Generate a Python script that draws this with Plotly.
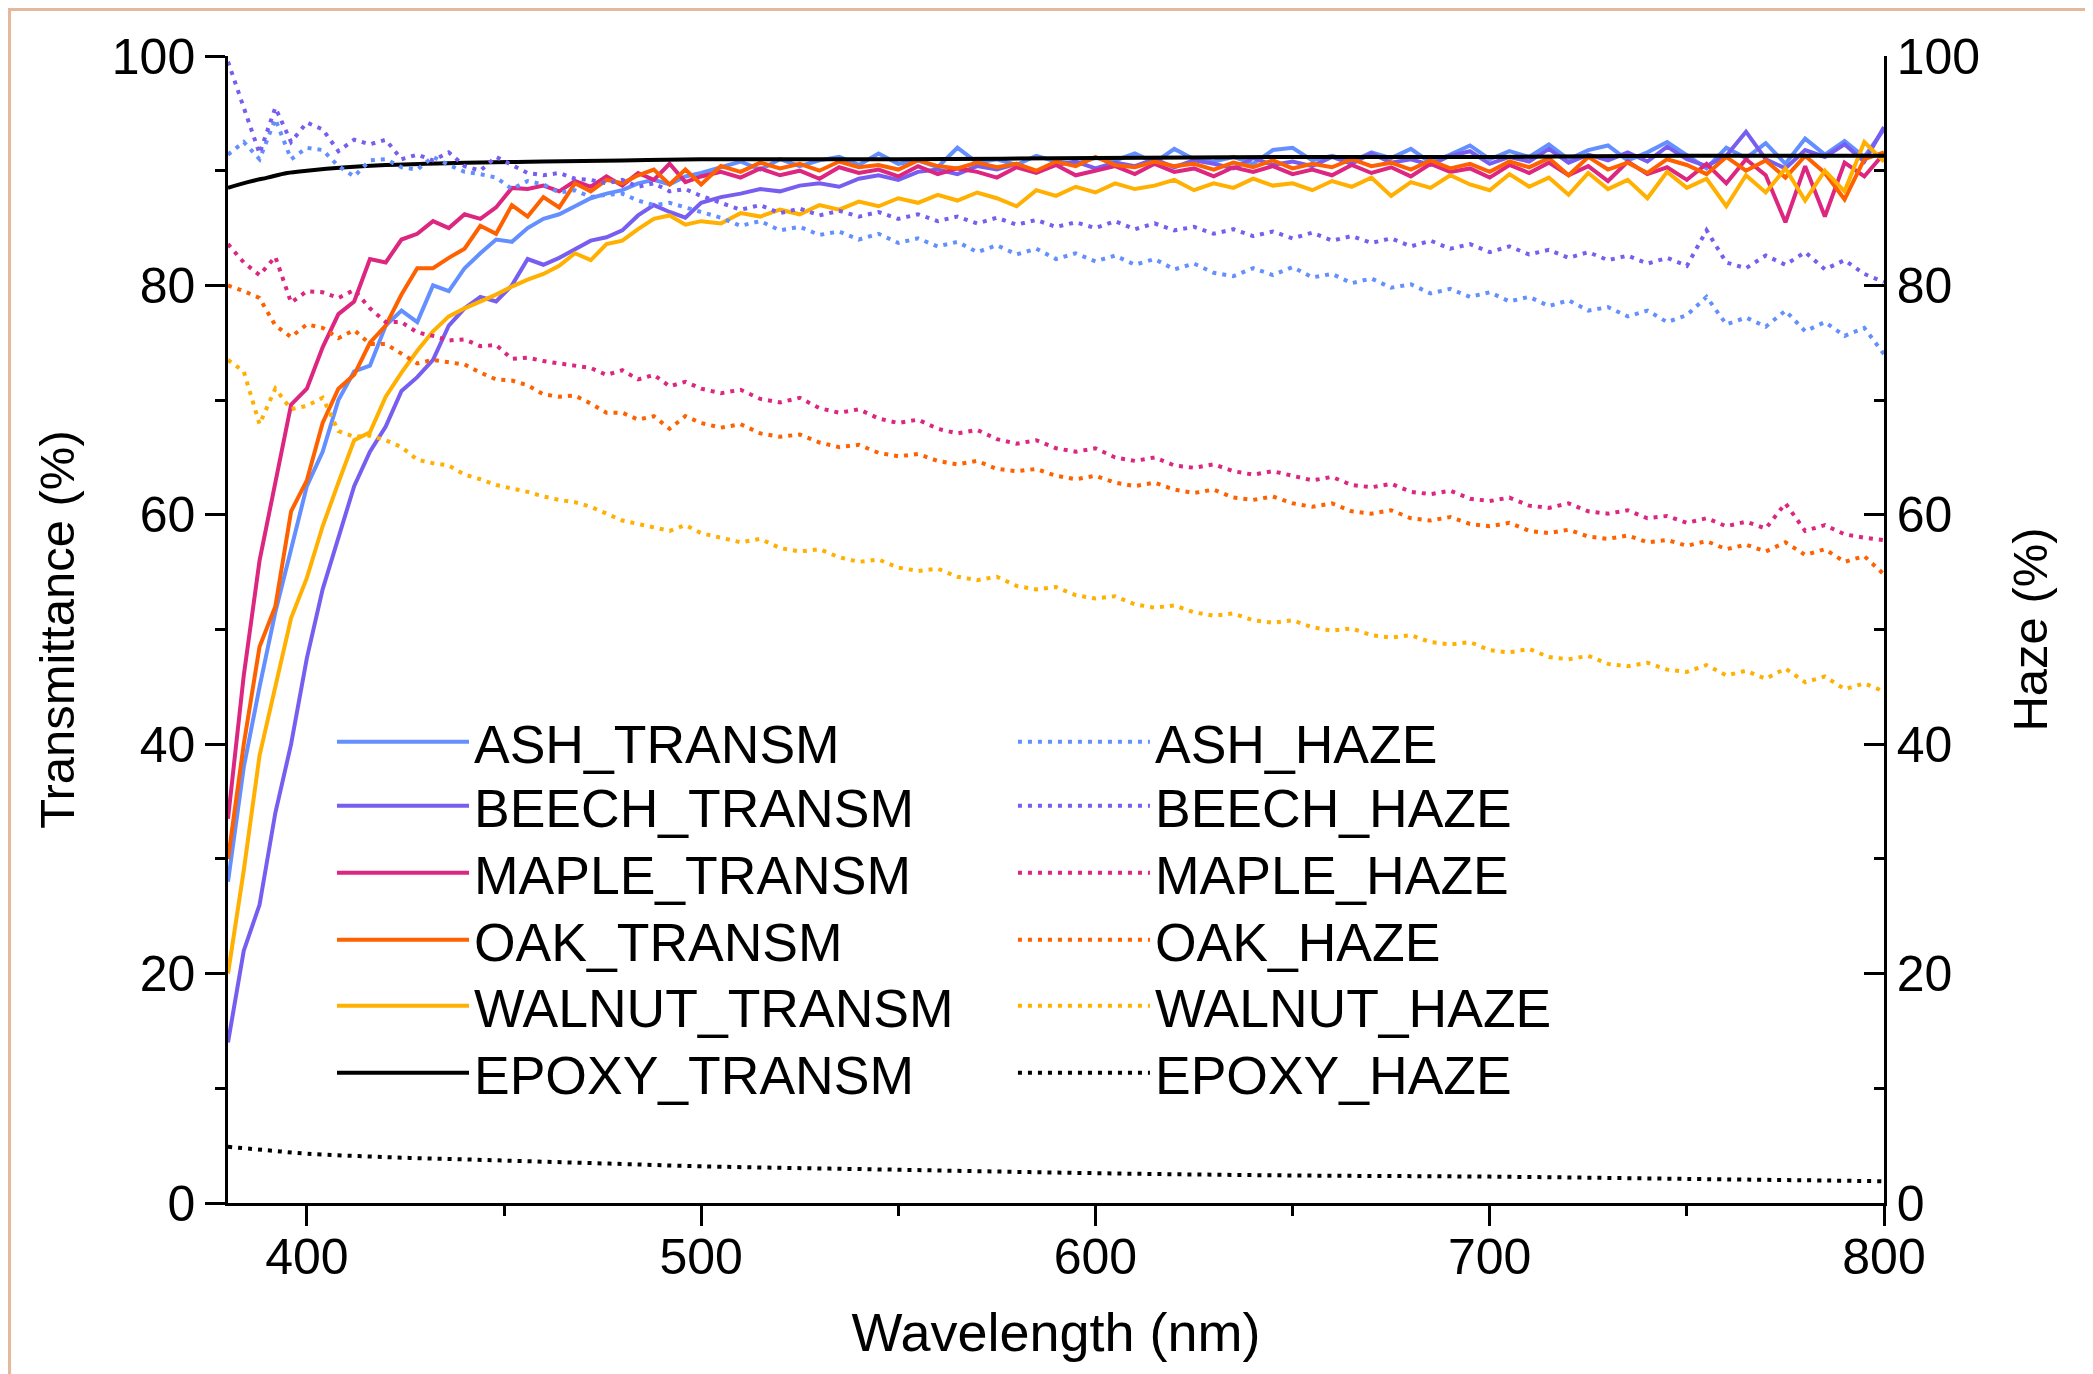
import plotly.graph_objects as go

# ---------------- data ----------------
WL = list(range(380, 501, 4)) + list(range(505, 801, 5))

ASH_TRANSM = [28, 38, 45, 51.5, 57, 62.5, 65.5, 70, 72.5, 73, 76.5, 77.8, 76.8, 80, 79.5, 81.5,
              82.8, 84, 83.8, 85, 85.8, 86.2, 86.9, 87.6, 88, 88.3, 88.9, 89.2, 88.8, 89.5, 89.8,
              90.3, 90.8, 90.1, 91.0, 90.4, 90.9, 91.2, 90.5, 91.5, 90.6, 90.9, 90.3, 92.0, 90.7, 91.0,
              90.5, 91.3, 90.8, 90.6, 91.1, 90.9, 91.5, 90.7, 91.9, 91.0, 90.8, 91.2, 90.6, 91.8, 92.0,
              90.9, 91.3, 90.8, 91.6, 91.1, 91.9, 90.7, 91.4, 92.2, 91.0, 91.7, 91.2, 92.3, 91.0, 91.8,
              92.2, 90.9, 91.6, 92.5, 91.3, 90.2, 92.0, 91.1, 92.4, 90.6, 92.8, 91.4, 92.6, 91.2, 93.6]
BEECH_TRANSM = [14, 22, 26, 34, 40, 47.5, 53.5, 58, 62.5, 65.5, 67.7, 70.8, 72, 73.5, 76.5, 78,
                79, 78.6, 80, 82.3, 81.8, 82.4, 83.2, 83.9, 84.2, 84.8, 86.1, 87, 86.4, 85.9, 87.2,
                87.7, 88.0, 88.4, 88.2, 88.7, 88.9, 88.6, 89.3, 89.6, 89.2, 89.9, 90.1, 89.7, 90.4, 90.1,
                90.6, 89.9, 90.5, 90.8, 90.2, 90.7, 90.4, 91.0, 90.3, 90.9, 90.6, 90.2, 91.1, 90.5, 90.8,
                90.4, 91.2, 90.6, 91.5, 90.7, 91.0, 90.5, 91.3, 91.7, 90.6, 91.2, 90.8, 91.9, 90.7, 91.4,
                90.9, 91.6, 90.8, 92.1, 91.0, 90.4, 91.3, 93.4, 91.0, 90.2, 91.8, 91.2, 92.3, 90.8, 93.8]
MAPLE_TRANSM = [33.5, 46, 56, 63, 69.6, 71, 74.6, 77.5, 78.6, 82.3, 82, 84, 84.5, 85.6, 85, 86.2,
                85.8, 86.8, 88.5, 88.4, 88.7, 88.2, 89.1, 88.6, 89.5, 88.7, 89.8, 89.2, 90.6, 89, 89.5,
                89.9, 89.4, 90.2, 89.6, 90.0, 89.3, 90.3, 89.8, 90.1, 89.5, 90.4, 89.7, 90.2, 89.9, 89.4,
                90.3, 89.8, 90.5, 89.6, 90.0, 90.4, 89.7, 90.6, 89.9, 90.2, 89.5, 90.3, 89.9, 90.4, 89.7,
                90.1, 89.6, 90.5, 89.8, 90.3, 89.5, 90.6, 89.9, 90.2, 89.4, 90.5, 89.8, 90.7, 89.6, 90.4,
                89.1, 90.8, 89.7, 90.3, 89.2, 90.6, 88.9, 91.0, 89.6, 85.5, 90.4, 86.0, 90.7, 89.5, 91.5]
OAK_TRANSM = [30, 40, 48.5, 52, 60.3, 63, 68, 71, 72.2, 75, 76.5, 79.2, 81.5, 81.5, 82.4, 83.2,
              85.2, 84.5, 87, 86, 87.7, 86.8, 88.9, 88.2, 89.2, 88.9, 89.6, 90.1, 88.8, 90.1, 88.8,
              90.4, 89.9, 90.7, 90.2, 90.6, 90.0, 90.8, 90.3, 90.5, 90.1, 90.9, 90.4, 90.2, 90.7, 90.3,
              90.6, 90.0, 90.8, 90.4, 91.2, 90.5, 90.3, 90.8, 90.4, 90.6, 90.1, 90.7, 90.3, 90.9, 90.2,
              90.6, 90.3, 91.0, 90.4, 90.7, 90.1, 90.9, 90.2, 90.6, 89.9, 90.8, 90.3, 91.1, 89.6, 91.2,
              90.1, 90.7, 89.8, 91.0, 90.5, 89.7, 91.2, 90.0, 90.9, 89.4, 91.3, 89.8, 87.5, 91.0, 91.6]
WALNUT_TRANSM = [20, 29, 39, 45, 51, 54.5, 59, 62.8, 66.5, 67.2, 70.3, 72.4, 74.3, 76, 77.3, 78,
                 78.6, 79.2, 79.9, 80.5, 81, 81.7, 82.8, 82.2, 83.6, 83.9, 84.9, 85.8, 86.1, 85.3, 85.6,
                 85.4, 86.3, 86.0, 86.6, 86.2, 87.0, 86.6, 87.3, 86.9, 87.6, 87.2, 87.9, 87.4, 88.1, 87.6,
                 86.9, 88.3, 87.8, 88.6, 88.1, 88.9, 88.4, 88.7, 89.2, 88.3, 88.9, 88.5, 89.3, 88.7, 88.9,
                 88.3, 89.1, 88.6, 89.4, 87.8, 89.0, 88.5, 89.6, 88.8, 88.3, 89.7, 88.6, 89.4, 87.9, 89.8,
                 88.4, 89.2, 87.6, 89.9, 88.5, 89.3, 86.9, 89.6, 88.1, 90.2, 87.4, 90.0, 88.2, 92.5, 90.8]

ASH_HAZE = [91.4, 92.5, 91, 94.5, 91, 92, 91.8, 90.4, 89.5, 90.9, 91, 90.3, 90.1, 91.2, 90.5, 89.9,
            89.7, 89.4, 88.4, 89.1, 88.8, 88.1, 88.3, 87.7, 87.9, 88, 87.4, 87, 87.2, 86.8, 86.4,
            85.9, 85.2, 85.6, 84.8, 85.1, 84.4, 84.7, 84.0, 84.5, 83.7, 84.1, 83.4, 83.8, 82.9, 83.5,
            82.7, 83.2, 82.3, 82.8, 82.1, 82.6, 81.8, 82.3, 81.4, 81.9, 81.1, 80.8, 81.5, 80.9, 81.6,
            80.7, 81.0, 80.2, 80.6, 79.8, 80.1, 79.3, 79.7, 79.0, 79.4, 78.6, 79.0, 78.2, 78.7, 77.8,
            78.1, 77.3, 77.8, 76.8, 77.4, 79.0, 76.6, 77.2, 76.4, 77.8, 76.0, 76.8, 75.6, 76.3, 74.0]
BEECH_HAZE = [99.5, 95.5, 91.5, 95.5, 92.5, 94.2, 93.6, 91.7, 92.7, 92.3, 92.7, 91, 91.4, 90.9, 91.6, 90.4,
              90, 91.2, 90.5, 89.8, 89.6, 89.8, 89.3, 89.2, 88.9, 89.2, 88.6, 88.9, 88.2, 88.4, 87.8,
              87.2, 86.6, 87.0, 86.3, 86.7, 86.1, 86.5, 86.0, 86.4, 85.8, 86.2, 85.6, 86.0, 85.4, 85.9,
              85.3, 85.7, 85.1, 85.5, 85.0, 85.6, 84.9, 85.4, 84.8, 85.1, 84.5, 84.9, 84.3, 84.7, 84.1,
              84.6, 83.9, 84.3, 83.7, 84.1, 83.4, 83.9, 83.2, 83.6, 82.9, 83.4, 82.7, 83.1, 82.4, 82.9,
              82.2, 82.6, 81.9, 82.4, 81.7, 84.8, 82.0, 81.5, 82.6, 81.8, 82.9, 81.4, 82.2, 81.0, 80.3]
MAPLE_HAZE = [83.6, 82, 80.9, 82.5, 78.5, 79.5, 79.4, 78.9, 79.6, 78, 76.8, 76.8, 75.9, 75.6, 75.2, 75.3,
              74.7, 74.8, 73.6, 73.7, 73.4, 73.2, 73, 72.8, 72.2, 72.6, 71.8, 72.2, 71.2, 71.6, 71.0,
              70.6, 70.9, 70.1, 69.8, 70.2, 69.3, 68.9, 69.2, 68.4, 68.0, 68.3, 67.5, 67.1, 67.4, 66.6,
              66.2, 66.5, 65.8, 65.5, 65.8, 65.0, 64.7, 65.0, 64.3, 64.1, 64.4, 63.8, 63.5, 63.8, 63.4,
              63.0, 63.3, 62.6, 62.4, 62.7, 62.0, 61.8, 62.1, 61.4, 61.2, 61.5, 60.8, 60.6, 61.0, 60.3,
              60.1, 60.4, 59.7, 59.9, 59.3, 59.7, 59.0, 59.4, 58.8, 61.0, 58.6, 59.1, 58.3, 58.0, 57.8]
OAK_HAZE = [80, 79.5, 78.9, 76.5, 75.5, 76.6, 76.3, 75.4, 76.1, 74.9, 74.9, 74, 73.2, 73.5, 73.3, 73.1,
            72.4, 71.8, 71.7, 71.3, 70.5, 70.3, 70.4, 69.7, 68.9, 68.9, 68.3, 68.6, 67.5, 68.6, 68.0,
            67.6, 67.9, 67.1, 66.8, 67.0, 66.3, 65.9, 66.1, 65.4, 65.1, 65.3, 64.7, 64.4, 64.7, 64.0,
            63.8, 64.0, 63.4, 63.1, 63.4, 62.8, 62.5, 62.8, 62.2, 61.9, 62.2, 61.5, 61.3, 61.6, 61.0,
            60.7, 61.0, 60.3, 60.1, 60.4, 59.7, 59.5, 59.8, 59.2, 59.0, 59.3, 58.6, 58.4, 58.7, 58.1,
            57.9, 58.2, 57.6, 57.8, 57.3, 57.7, 57.0, 57.4, 56.8, 57.6, 56.5, 57.0, 55.9, 56.4, 54.8]
WALNUT_HAZE = [73.5, 72.5, 67.9, 71, 69.2, 69.5, 70.2, 67.3, 66.8, 66.9, 66.5, 65.9, 64.8, 64.5, 64.3, 63.5,
               63.1, 62.6, 62.3, 62, 61.6, 61.3, 61.1, 60.7, 60.1, 59.5, 59.2, 58.9, 58.6, 59.1, 58.4,
               58.0, 57.6, 57.9, 57.1, 56.8, 57.0, 56.3, 55.9, 56.1, 55.4, 55.1, 55.3, 54.6, 54.3, 54.6,
               53.8, 53.5, 53.7, 53.0, 52.7, 52.9, 52.2, 51.9, 52.1, 51.5, 51.2, 51.4, 50.8, 50.6, 50.8,
               50.2, 49.9, 50.1, 49.5, 49.3, 49.5, 48.9, 48.7, 48.9, 48.2, 48.0, 48.3, 47.6, 47.4, 47.7,
               47.0, 46.8, 47.1, 46.5, 46.3, 46.9, 46.0, 46.4, 45.7, 46.6, 45.4, 45.9, 44.8, 45.3, 44.6]

EPOXY_WL = [380, 385, 390, 395, 400, 410, 420, 430, 440, 460, 480, 500, 550, 600, 650, 700, 750, 800]
EPOXY_TRANSM = [88.5, 89.0, 89.4, 89.8, 90.0, 90.3, 90.5, 90.6, 90.7, 90.8, 90.9, 91.0, 91.0, 91.1,
                91.2, 91.2, 91.3, 91.3]
EPOXY_HAZE_WL = [380, 390, 400, 420, 440, 460, 480, 500, 550, 600, 650, 700, 750, 800]
EPOXY_HAZE = [4.9, 4.6, 4.3, 4.0, 3.8, 3.6, 3.4, 3.2, 2.9, 2.6, 2.4, 2.3, 2.1, 1.9]

NAMES = ["ASH", "BEECH", "MAPLE", "OAK", "WALNUT"]
COLORS = ["#648FFF", "#785EF0", "#DC267F", "#FE6100", "#FFB000"]
TRANSM = [ASH_TRANSM, BEECH_TRANSM, MAPLE_TRANSM, OAK_TRANSM, WALNUT_TRANSM]
HAZE = [ASH_HAZE, BEECH_HAZE, MAPLE_HAZE, OAK_HAZE, WALNUT_HAZE]

FONT = "Liberation Sans, Arial, Helvetica, sans-serif"
DOT = "4px,6px"
LW = 4

# legend rows (paper y of each row centre), two columns
ROW_Y = [0.4019, 0.3461, 0.2877, 0.2293, 0.1718, 0.1133]
COL_X = [0.0628, 0.474]

fig = go.Figure()

# haze (right axis) - dotted ; legends 7..12 (right column)
for i, (name, col, vals) in enumerate(zip(NAMES, COLORS, HAZE)):
    fig.add_trace(go.Scatter(x=WL, y=vals, name=f"{name}_HAZE", mode="lines",
                             line=dict(color=col, width=LW, dash=DOT),
                             yaxis="y2", legend=f"legend{7 + i}"))
fig.add_trace(go.Scatter(x=EPOXY_HAZE_WL, y=EPOXY_HAZE, name="EPOXY_HAZE", mode="lines",
                         line=dict(color="black", width=LW, dash=DOT, shape="spline"),
                         yaxis="y2", legend="legend12"))

# transmittance (left axis) - solid ; legends 1..6 (left column)
for i, (name, col, vals) in enumerate(zip(NAMES, COLORS, TRANSM)):
    fig.add_trace(go.Scatter(x=WL, y=vals, name=f"{name}_TRANSM", mode="lines",
                             line=dict(color=col, width=LW), yaxis="y",
                             legend="legend" if i == 0 else f"legend{i + 1}"))
fig.add_trace(go.Scatter(x=EPOXY_WL, y=EPOXY_TRANSM, name="EPOXY_TRANSM", mode="lines",
                         line=dict(color="black", width=LW, shape="spline"),
                         yaxis="y", legend="legend6"))

def axis_common(ticks):
    return dict(
        showline=True, linewidth=2.5, linecolor="black", showgrid=False, zeroline=False,
        ticks=ticks, ticklen=20, tickwidth=2.5, tickcolor="black",
        tickfont=dict(size=50, color="black", family=FONT),
    )

def minor(ticks, tick0, dtick):
    return dict(ticks=ticks, ticklen=10, tickwidth=2.5, tickcolor="black",
                tick0=tick0, dtick=dtick, showgrid=False)

def legend_box(col, row):
    return dict(x=COL_X[col], y=ROW_Y[row], xanchor="left", yanchor="middle",
                bgcolor="rgba(0,0,0,0)", itemwidth=132,
                font=dict(size=53.5, family=FONT, color="black"))

legends = {}
for c in range(2):
    for r in range(6):
        idx = c * 6 + r + 1
        key = "legend" if idx == 1 else f"legend{idx}"
        legends[key] = legend_box(c, r)

fig.update_layout(
    width=2093, height=1374,
    margin=dict(l=220, r=217, t=48, b=179, autoexpand=False),
    paper_bgcolor="#e4b99b",
    plot_bgcolor="white",
    font=dict(family=FONT, size=50, color="black"),
    shapes=[dict(type="rect", xref="paper", yref="paper", x0=-0.131, x1=1.1244,
                 y0=-0.2, y1=1.0392, fillcolor="white", line=dict(width=0), layer="below")],
    xaxis=dict(range=[380, 800], tick0=400, dtick=100, minor=minor("outside", 400, 50),
               title=dict(text="Wavelength (nm)", font=dict(size=54, family=FONT), standoff=30),
               **axis_common("outside")),
    yaxis=dict(range=[0, 100], tick0=0, dtick=20, minor=minor("outside", 0, 10),
               title=dict(text="Transmittance (%)", font=dict(size=49, family=FONT), standoff=22),
               **axis_common("outside")),
    yaxis2=dict(range=[0, 100], tick0=0, dtick=20, overlaying="y", side="right", anchor="x",
                minor=minor("inside", 0, 10),
                title=dict(text="Haze (%)", font=dict(size=49, family=FONT), standoff=34),
                **axis_common("inside")),
    showlegend=True,
    **legends,
)

try:
    fig.update_xaxes(ticklabelstandoff=-12)
except Exception:
    pass

fig.write_html("out.html")
